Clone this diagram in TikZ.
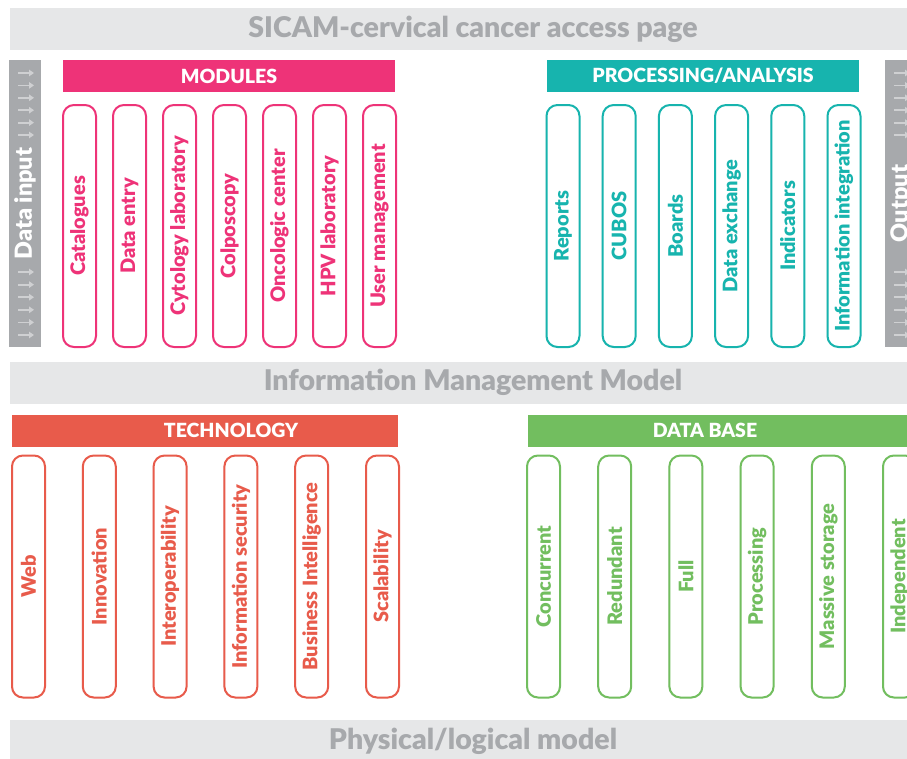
\documentclass[tikz,border=0pt]{standalone}
\usepackage{fontspec}
\setmainfont{Lato}[BoldFont={Lato Black}]
\usetikzlibrary{shadows,arrows.meta}

\definecolor{modpink}{HTML}{EE3378}
\definecolor{proteal}{HTML}{17B4AE}
\definecolor{techred}{HTML}{E85B4B}
\definecolor{dbgreen}{HTML}{72BE5F}
\definecolor{bandgray}{HTML}{E6E7E8}
\definecolor{bandtext}{HTML}{A7A9AC}
\definecolor{bargray}{HTML}{A7A9AC}
\definecolor{arrowgray}{HTML}{CFD0D2}

\tikzset{
  band/.style={fill=bandgray, text=bandtext, inner sep=0pt,
    minimum width=926, minimum height=42,
    font=\bfseries\fontsize{28.5}{28.5}\selectfont},
  header/.style={fill=#1, text=white, inner sep=0pt, minimum height=32,
    font=\bfseries\fontsize{19.5}{19.5}\selectfont},
  pill/.style={draw=#1, text=#1, fill=white, line width=2pt,
    rounded corners=11pt, rotate=90, inner sep=0pt,
    minimum width=242, minimum height=33,
    font=\bfseries\fontsize{20}{20}\selectfont,
    drop shadow={opacity=0.18, shadow xshift=-1pt, shadow yshift=-0.6pt}},
  sidebar/.style={fill=bargray, text=white, rotate=90, inner sep=0pt,
    minimum width=287, minimum height=32,
    font=\bfseries\fontsize{23.5}{23.5}\selectfont},
  flow/.style={arrowgray, line width=1.8pt, -{Triangle[length=5pt,width=6.5pt]}}
}

\begin{document}
\begin{tikzpicture}[x=1pt,y=-1pt]
  \useasboundingbox (0,0) rectangle (907,758);
  \clip (0,0) rectangle (907,758);

  % layer bands
  \node[band] (access) at (473,29) {SICAM-cervical cancer access page};
  \node[band] (infomodel) at (473,382.5) {Information Management Model};
  \node[band] (physical) at (473,741) {Physical/logical model};

  % input and output bars with their little arrows
  \node[sidebar] (datainput) at (25,203.5) {Data input};
  \node[sidebar] (output) at (901,203.5) {Output};
  \foreach \y in {73,85.4,...,136,272,284.6,...,336} {
    \draw[flow] (18,\y) -- (34,\y);
    \draw[flow] (894,\y) -- (910,\y);
  }

  % modules
  \node[header=modpink, minimum width=332] (modules) at (229,76) {MODULES};
  \foreach \name [count=\i from 0] in {Catalogues, Data entry,
      Cytology laboratory, Colposcopy, Oncologic center, HPV laboratory,
      User management}
    \node[pill=modpink] (mod\i) at ({79.5+50*\i},226) {\name};

  % processing / analysis
  \node[header=proteal, minimum width=312] (processing) at (703,76) {PROCESSING/ANALYSIS};
  \foreach \name [count=\i from 0] in {Reports, CUBOS, Boards,
      Data exchange, Indicators, Information integration}
    \node[pill=proteal] (proc\i) at ({563+56.2*\i},226) {\name};

  % technology
  \node[header=techred, minimum width=386] (technology) at (205,430.5) {};
  \node[text=white, font=\bfseries\fontsize{19.5}{19.5}\selectfont] (techtitle) at (231,430.5) {TECHNOLOGY};
  \foreach \name [count=\i from 0] in {Web, Innovation, Interoperability,
      Information security, Business Intelligence, Scalability}
    \node[pill=techred] (tech\i) at ({28.5+70.8*\i},576.5) {\name};

  % data base
  \node[header=dbgreen, minimum width=386] (database) at (721,430.5) {};
  \node[text=white, font=\bfseries\fontsize{19.5}{19.5}\selectfont] (dbtitle) at (705,430.5) {DATA BASE};
  \foreach \name [count=\i from 0] in {Concurrent, Redundant, Full,
      Processing, Massive storage, Independent}
    \node[pill=dbgreen] (db\i) at ({543.5+71.2*\i},576.5) {\name};
\end{tikzpicture}
\end{document}
